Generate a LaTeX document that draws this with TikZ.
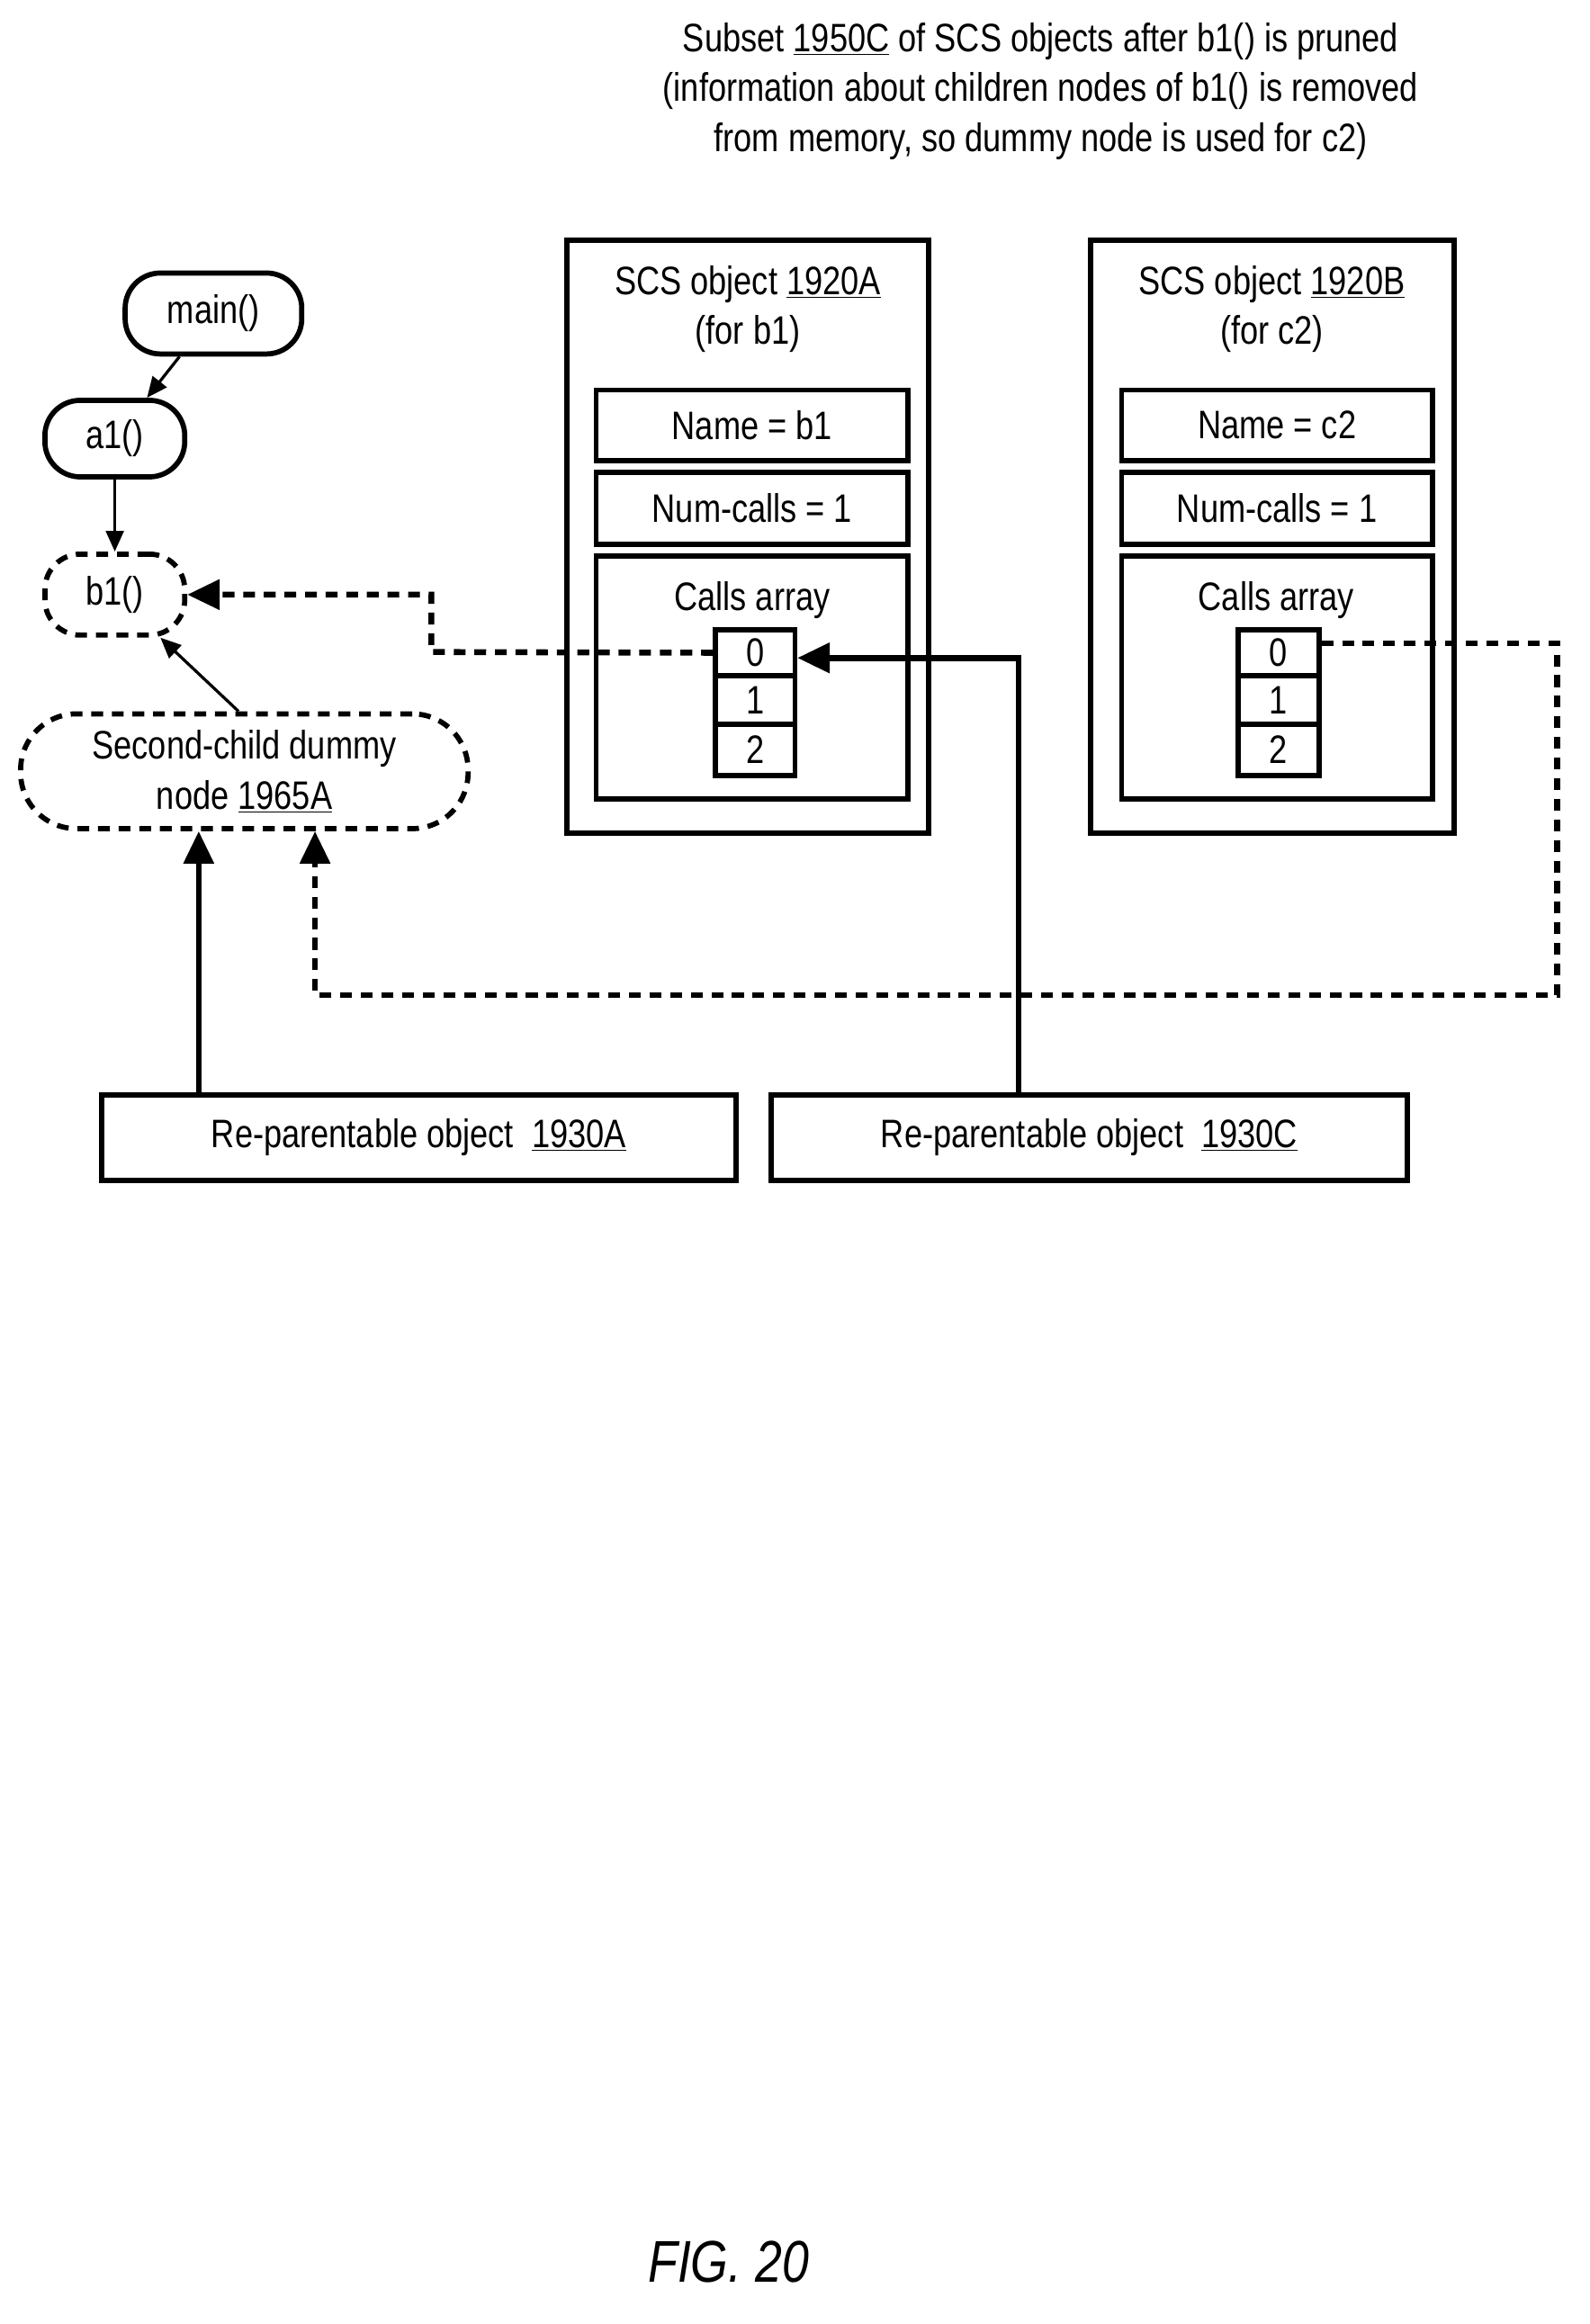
\documentclass[tikz,border=0pt]{standalone}
\usepackage{fontspec}
\setmainfont{Liberation Sans}[FakeStretch=0.82]
\usetikzlibrary{arrows.meta}
\begin{document}
\begin{tikzpicture}[x={(1pt,0)},y={(0,-1pt)},
  box/.style={draw,line width=3.5pt,inner sep=0pt},
  rbox/.style={draw,line width=3.5pt,rounded corners=24pt,inner sep=0pt},
  dsh/.style={dash pattern=on 8pt off 6pt},
  txt/.style={font=\fontsize{27}{34}\selectfont,align=center},
  big/.style={line width=4pt,-{Triangle[length=22pt,width=20pt]}},
  thin/.style={line width=2pt,-{Triangle[length=14pt,width=12pt]}}]
\useasboundingbox (0,0) rectangle (1080,1579);
\node[txt] (title) at (707,62) {Subset \underline{1950C} of SCS objects after b1() is pruned\\(information about children nodes of b1() is removed\\from memory, so dummy node is used for c2)};
% tree
\node[rbox,minimum width=120pt,minimum height=55pt,txt] (main) at (145,213) {main()};
\node[rbox,minimum width=95pt,minimum height=52pt,txt] (a1) at (78,298) {a1()};
\node[rbox,dsh,minimum width=95pt,minimum height=55pt,txt] (b1) at (78,404) {b1()};
\node[rbox,dsh,rounded corners=38pt,minimum width=304pt,minimum height=78pt,txt] (dum) at (166,524) {Second-child dummy\\node \underline{1965A}};
\draw[thin] (main) -- (a1);
\draw[thin] (a1) -- (b1);
\draw[thin] (dum.north) ++(-4,0) coordinate (dt) -- (b1);
% SCS A
\node[box,minimum width=246pt,minimum height=403pt] (sa) at (508,364.5) {};
\node[txt] (sat) at (508,210) {SCS object \underline{1920A}\\(for b1)};
\node[box,minimum width=212pt,minimum height=48pt,txt] (na) at (511,289) {Name = b1};
\node[box,minimum width=212pt,minimum height=49pt,txt] (ca) at (511,345.5) {Num-calls = 1};
\node[box,minimum width=212pt,minimum height=165pt] (arA) at (511,460.5) {};
\node[txt] (arAt) at (511,408) {Calls array};
\node[box,minimum width=54pt,minimum height=31pt,txt] (a0) at (513,443.5) {0};
\node[box,minimum width=54pt,minimum height=33pt,txt] (a1c) at (513,475.5) {1};
\node[box,minimum width=54pt,minimum height=35pt,txt] (a2) at (513,509.5) {2};
% SCS B
\node[box,minimum width=247pt,minimum height=403pt] (sb) at (864.5,364.5) {};
\node[txt] (sbt) at (864,210) {SCS object \underline{1920B}\\(for c2)};
\node[box,minimum width=211pt,minimum height=48pt,txt] (nb) at (867.5,289) {Name = c2};
\node[box,minimum width=211pt,minimum height=49pt,txt] (cb) at (867.5,345.5) {Num-calls = 1};
\node[box,minimum width=211pt,minimum height=165pt] (arB) at (867.5,460.5) {};
\node[txt] (arBt) at (867,408) {Calls array};
\node[box,minimum width=55pt,minimum height=31pt,txt] (b0) at (868.5,443.5) {0};
\node[box,minimum width=55pt,minimum height=33pt,txt] (b1c) at (868.5,475.5) {1};
\node[box,minimum width=55pt,minimum height=35pt,txt] (b2) at (868.5,509.5) {2};
% reparentable
\node[box,minimum width=431pt,minimum height=58pt,txt] (rA) at (284.5,773) {Re-parentable object \ \underline{1930A}};
\node[box,minimum width=432pt,minimum height=58pt,txt] (rC) at (740,773) {Re-parentable object \ \underline{1930C}};
% connectors
\draw[big,dsh] (a0.west) -- (293,443) -- (293,404) -- (b1.east);
\draw[big] (rC.north -| 692,0) -- (692,447) -- (a0.east |- 0,447);
\draw[big] (rA.north -| 135,0) -- (dum.south -| 135,0);
\draw[big,dsh] (b0.east |- 0,437) -- (1058,437) -- (1058,676) -- (214,676) -- (dum.south -| 214,0);
\node[font=\fontsize{40}{48}\selectfont\itshape] (fig) at (495,1537) {FIG. 20};
\end{tikzpicture}
\end{document}
